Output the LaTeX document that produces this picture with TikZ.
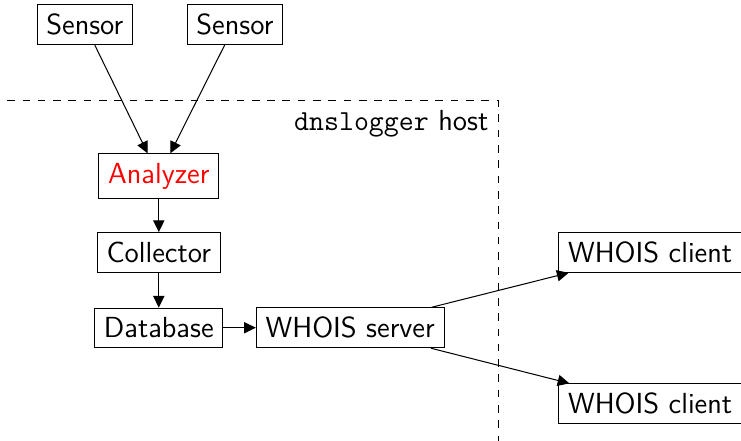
\documentclass[tikz,border=0pt,11pt]{standalone}
\usetikzlibrary{arrows.meta}

\tikzset{
  every node/.style={font=\fontsize{11.4}{14}\selectfont\sffamily},
  box/.style={draw},
  >={Triangle[length=4.6pt,width=4.4pt]}
}

\begin{document}
\begin{tikzpicture}
      \useasboundingbox (0,0) rectangle (10.22,-6.08);

      \node[box] (S1) at (1.17,-0.34) {Sensor};
      \node[box] (S2) at (3.24,-0.34) {Sensor};

      \node[box, text=red] (A) at (2.19,-2.43) {Analyzer};
      \node[box] (C) at (2.19,-3.48) {Collector};
      \node[box] (D) at (2.19,-4.52) {Database};
      \node[box] (W) at (4.83,-4.52) {WHOIS server};

      \node[box, anchor=west] (K1) at (7.70,-3.48) {WHOIS client};
      \node[box, anchor=west] (K2) at (7.70,-5.57) {WHOIS client};

      % host boundary
      \coordinate (H1) at (0.10,-1.39);
      \coordinate (H2) at (6.87,-1.39);
      \coordinate (H3) at (6.87,-6.08);
      \draw[dashed] (H1) -- (H2) -- (H3);
      \node[below left] (L) at (H2) {\texttt{dnslogger} host};

      \draw[->] (S1) -- (A);
      \draw[->] (S2) -- (A);
      \draw[->] (A) -- (C);
      \draw[->] (C) -- (D);
      \draw[->] (D) -- (W);
      \draw[->] (W) -- (K1);
      \draw[->] (W) -- (K2);
    \end{tikzpicture}
\end{document}
